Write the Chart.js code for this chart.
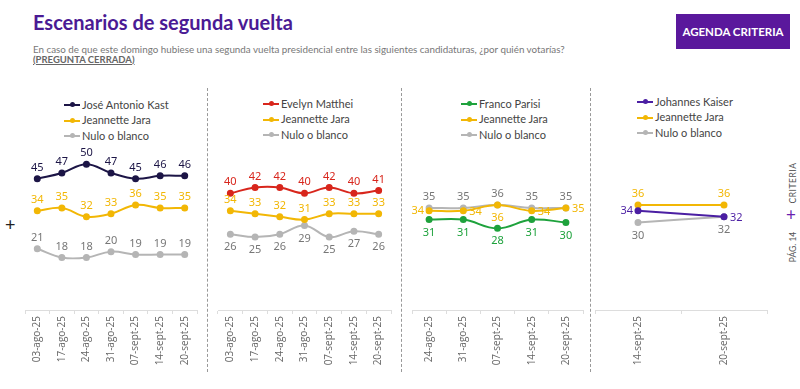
<!DOCTYPE html>
<html>
<head>
<meta charset="utf-8">
<script src="https://cdn.jsdelivr.net/npm/chart.js@4"></script>
<style>
  body { margin: 0; width: 800px; height: 389px; background: #fff; position: relative; overflow: hidden; font-family: Lato, "Open Sans", sans-serif; }
  .abs { position: absolute; }
  #title { left: 33px; top: 10px; font-size: 20px; font-weight: bold; color: #4a1a94; }
  #sub { left: 33px; top: 43px; font-size: 9.8px; color: #777; }
  #sub2 { left: 33px; top: 54px; font-size: 9.5px; color: #666; text-decoration: underline; font-weight: bold; }
  #btn { left: 676px; top: 14px; width: 114px; height: 35px; background: #5a189c; color: #fff; font-size: 11.5px; font-weight: bold; line-height: 35px; text-align: center; }
  .divider { top: 88px; height: 284px; width: 0; border-left: 1px dashed #999; }
  .legend { font-size: 11px; color: #444; line-height: 15.3px; }
  .legend div { white-space: nowrap; }
  .swatch { display: inline-block; position: relative; width: 16px; height: 2px; vertical-align: middle; margin-right: 2px; margin-top: -2px; }
  .swatch i { position: absolute; left: 6px; top: -2px; width: 5px; height: 5px; border-radius: 50%; }
  canvas { position: absolute; }
</style>
</head>
<body>
<div id="title" class="abs">Escenarios de segunda vuelta</div>
<div id="sub" class="abs">En caso de que este domingo hubiese una segunda vuelta presidencial entre las siguientes candidaturas, ¿por quién votarías?</div>
<div id="sub2" class="abs">(PREGUNTA CERRADA)</div>
<div id="btn" class="abs">AGENDA CRITERIA</div>
<div class="abs divider" style="left:207px"></div>
<div class="abs divider" style="left:401px"></div>
<div class="abs divider" style="left:590px"></div>
<div class="abs" style="left:5px; top:213px; font-size:18px; color:#222;">+</div>
<div class="abs" style="left:763px; top:178px; width:60px; font-size:8.5px; line-height:10px; color:#555; transform:rotate(-90deg); text-align:center; letter-spacing:0.5px;">CRITERIA</div>
<div class="abs" style="left:786px; top:204px; font-size:17px; color:#6a1fb0;">+</div>
<div class="abs" style="left:763px; top:242px; width:60px; font-size:8.5px; line-height:10px; color:#555; transform:rotate(-90deg); text-align:center;">PÁG. 14</div>

<div id="legend1" class="abs legend" style="left:64px; top:97px"></div>
<div id="legend2" class="abs legend" style="left:263px; top:96px"></div>
<div id="legend3" class="abs legend" style="left:461px; top:96px"></div>
<div id="legend4" class="abs legend" style="left:637px; top:94px"></div>

<canvas id="chart1" width="192" height="240" style="left:15px; top:130px"></canvas>
<canvas id="chart2" width="193" height="240" style="left:208px; top:130px"></canvas>
<canvas id="chart3" width="191" height="240" style="left:402px; top:130px"></canvas>
<canvas id="chart4" width="192" height="240" style="left:585px; top:130px"></canvas>

<script>
// Data

const dates1 = ["03-ago-25", "17-ago-25", "24-ago-25", "31-ago-25", "07-sept-25", "14-sept-25", "20-sept-25"];
const dates3 = ["24-ago-25", "31-ago-25", "07-sept-25", "14-sept-25", "20-sept-25"];
const dates4 = ["14-sept-25", "20-sept-25"];

const kast = [45, 47, 50, 47, 45, 46, 46];
const jaraVsKast = [34, 35, 32, 33, 36, 35, 35];
const nuloVsKast = [21, 18, 18, 20, 19, 19, 19];

const matthei = [40, 42, 42, 40, 42, 40, 41];
const jaraVsMatthei = [34, 33, 32, 31, 33, 33, 33];
const nuloVsMatthei = [26, 25, 26, 29, 25, 27, 26];

const parisi = [31, 31, 28, 31, 30];
const jaraVsParisi = [34, 34, 36, 34, 35];
const nuloVsParisi = [35, 35, 36, 35, 35];

const kaiser = [34, 32];
const jaraVsKaiser = [36, 36];
const nuloVsKaiser = [30, 32];

// Colours
const cKast = "#1c1546";
const cJara = "#f2b705";
const cNulo = "#b5b5b5";
const cMatthei = "#d8261c";
const cParisi = "#1ea23c";
const cKaiser = "#4b1fa3";

// Draws the value next to every point
const valueLabels = {
  id: "valueLabels",
  afterDatasetsDraw(chart) {
    const ctx = chart.ctx;
    ctx.save();
    ctx.font = "11px 'Noto Sans', Lato, sans-serif";
    chart.data.datasets.forEach((ds, i) => {
      const meta = chart.getDatasetMeta(i);
      meta.data.forEach((pt, j) => {
        const pos = Array.isArray(ds.labelPos) ? ds.labelPos[j] : ds.labelPos;
        let x = pt.x, y = pt.y;
        ctx.fillStyle = ds.labelColor;
        ctx.textBaseline = "middle";
        ctx.textAlign = "center";
        if (pos === "top") y -= 11;
        if (pos === "bottom") y += 13;
        if (pos === "left") { ctx.textAlign = "right"; x -= 5; }
        if (pos === "right") { ctx.textAlign = "left"; x += 6; y += 1; }
        ctx.fillText(ds.data[j], x, y);
      });
    });
    ctx.restore();
  }
};

function series(label, data, color, labelColor, labelPos) {
  return {
    label: label,
    data: data,
    borderColor: color,
    backgroundColor: color,
    borderWidth: 2,
    pointRadius: 2.5,
    pointHoverRadius: 2.5,
    tension: 0.4,
    labelColor: labelColor,
    labelPos: labelPos,
  };
}

function makeChart(id, legendId, labels, datasets) {
  // html legend: line with a dot
  let html = "";
  datasets.forEach((ds) => {
    html += `<div><span class="swatch" style="background:${ds.borderColor}"><i style="background:${ds.borderColor}"></i></span>${ds.label}</div>`;
  });
  document.getElementById(legendId).innerHTML = html;

  new Chart(document.getElementById(id), {
    type: "line",
    data: { labels: labels, datasets: datasets },
    plugins: [valueLabels],
    options: {
      responsive: false,
      animation: false,
      layout: { padding: { left: 10, right: 10, top: 5, bottom: 0 } },
      plugins: { legend: { display: false }, tooltip: { enabled: false } },
      scales: {
        y: { display: false, min: 0, max: 60 },
        x: {
          offset: true,
          // fixed axis height so the plot area lines up with the other panels
          afterFit: (scale) => { scale.height = 60; },
          grid: { drawOnChartArea: false, tickLength: 4, color: "#ddd", offset: true },
          border: { color: "#ddd" },
          ticks: {
            minRotation: 90,
            maxRotation: 90,
            color: "#666",
            padding: 2,
            font: { family: "'Open Sans', sans-serif", size: 10 },
          },
        },
      },
    },
  });
}

makeChart("chart1", "legend1", dates1, [
  series("José Antonio Kast", kast, cKast, cKast, "top"),
  series("Jeannette Jara", jaraVsKast, cJara, cJara, "top"),
  series("Nulo o blanco", nuloVsKast, cNulo, "#777", "top"),
]);

makeChart("chart2", "legend2", dates1, [
  series("Evelyn Matthei", matthei, cMatthei, cMatthei, "top"),
  series("Jeannette Jara", jaraVsMatthei, cJara, cJara, "top"),
  series("Nulo o blanco", nuloVsMatthei, cNulo, "#777", "bottom"),
]);

makeChart("chart3", "legend3", dates3, [
  series("Franco Parisi", parisi, cParisi, cParisi, "bottom"),
  series("Jeannette Jara", jaraVsParisi, cJara, cJara, ["left", "right", "bottom", "right", "right"]),
  series("Nulo o blanco", nuloVsParisi, cNulo, "#777", "top"),
]);

makeChart("chart4", "legend4", dates4, [
  series("Johannes Kaiser", kaiser, cKaiser, cKaiser, ["left", "right"]),
  series("Jeannette Jara", jaraVsKaiser, cJara, cJara, "top"),
  series("Nulo o blanco", nuloVsKaiser, cNulo, "#777", "bottom"),
]);
</script>
</body>
</html>
